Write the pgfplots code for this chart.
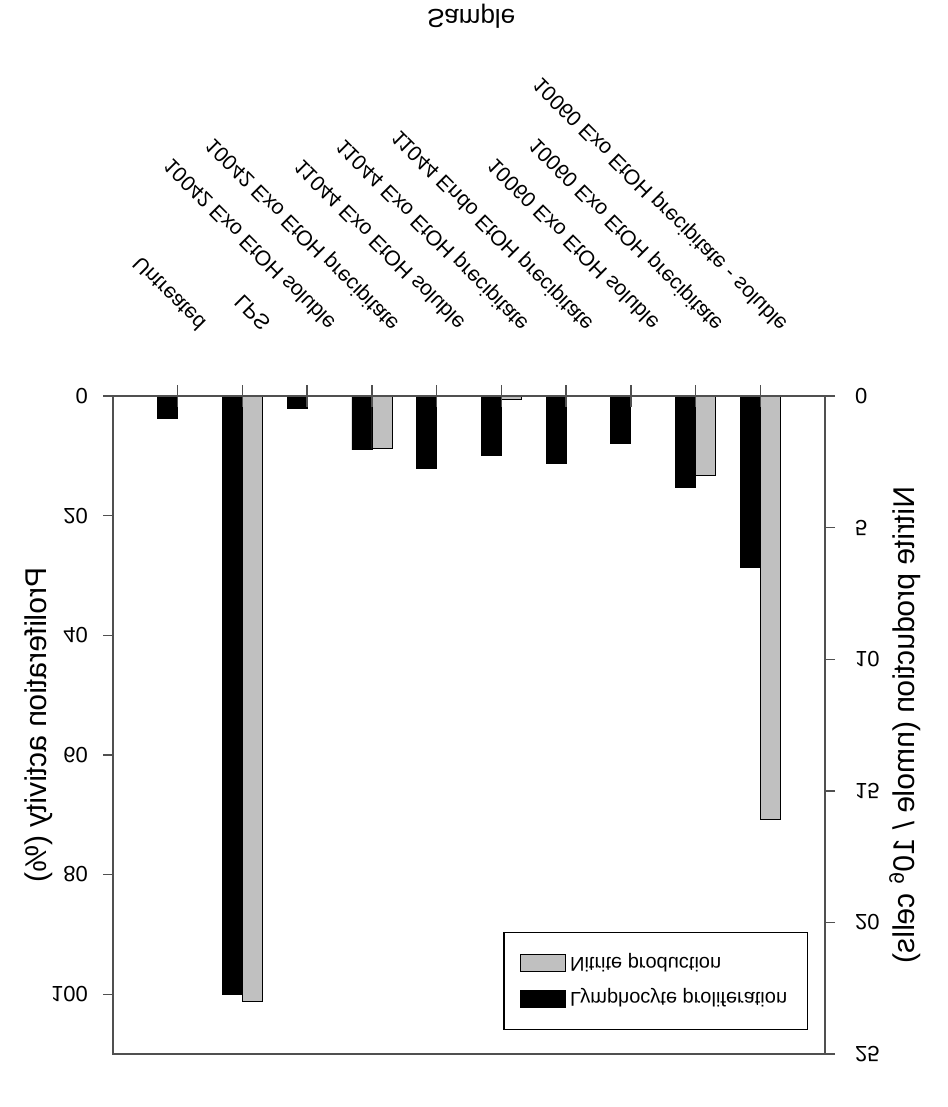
\documentclass[border=0pt]{standalone}
\usepackage{fontspec}
\setmainfont{Liberation Sans}
\usepackage{pgfplots}
\pgfplotsset{compat=1.18}
\definecolor{barsilver}{RGB}{192,192,192}
\definecolor{axisgray}{RGB}{80,80,80}

\begin{document}
\begin{tikzpicture}
\path[use as bounding box] (0pt,0pt) rectangle (473.5pt,-553.5pt);
\pgfplotsset{
  geom/.style={
    scale only axis, width=356pt, height=329pt,
    at={(56.5pt,-527pt)}, anchor=south west,
    xmin=0, xmax=11, enlargelimits=false,
    tick align=outside, major tick length=5pt,
    axis line style={axisgray, line width=0.7pt},
    every tick/.style={axisgray, line width=0.7pt},
  },
  common/.style={
    geom, y dir=reverse,
    /pgf/number format/assume math mode=true,
    ticklabel style={font=\fontsize{11}{13}\selectfont},
    ybar, bar width=10pt,
  }
}
\begin{axis}[common,
  ymin=0, ymax=110, ytick={0,20,...,100},
  ytick pos=left, xtick pos=right, xticklabel pos=right,
  xtick={1,2,3,4,5,6,7,8,9,10},
  xticklabels={Untreated, LPS, 10042 Exo EtOH soluble, 10042 Exo EtOH precipitate, 11044 Exo EtOH soluble, 11044 Exo EtOH precipitate, 11044 Endo EtOH precipitate, 10060 Exo EtOH soluble, 10060 Exo EtOH precipitate, 10060 Exo EtOH precipitate - soluble},
  xticklabel style={font=\fontsize{10.6}{12.5}\selectfont, xshift=14.5pt, yshift=27pt, yscale=-1, rotate=45, anchor=east},
  yticklabel style={xshift=-4pt, yscale=-1},
  ylabel={Proliferation activity (\%)},
  xlabel={Sample},
  every axis y label/.style={at={(axis description cs:-0.105,0.5)}, anchor=center, font=\fontsize{15}{18}\selectfont, yscale=-1, rotate=90},
  every axis x label/.style={at={(axis description cs:0.503,1.577)}, anchor=center, font=\fontsize{13}{16}\selectfont, yscale=-1},
]
\addplot[fill=black, draw=black, bar shift=-5pt] coordinates {(1,3.7) (2,100) (3,2.0) (4,9.0) (5,12.1) (6,9.9) (7,11.3) (8,8.0) (9,15.3) (10,28.6)};
\end{axis}
\begin{axis}[common,
  ymin=0, ymax=25, ytick={0,5,...,25},
  axis x line=none, axis y line*=right,
  yticklabel style={xshift=6.5pt, yscale=-1},
  ylabel={Nitrite production (nmole / 10\textsuperscript{6} cells)},
  every axis y label/.style={at={(axis description cs:1.112,0.5)}, anchor=center, font=\fontsize{15}{18}\selectfont, yscale=-1, rotate=90},
  legend style={at={(0.976,0.0365)}, anchor=south east, draw=black, line width=0.7pt, font=\fontsize{10}{12}\selectfont, nodes={yscale=-1}, row sep=5pt, inner xsep=8pt, inner ysep=9pt},
  legend cell align=left,
  legend image code/.code={\draw[#1, line width=0.5pt] (0pt,-4.25pt) rectangle (22.5pt,4.25pt);},
]
\addplot[fill=barsilver, draw=black, bar shift=5pt] coordinates {(2,23.0) (4,2.0) (6,0.13) (9,3.0) (10,16.1)};
\addlegendentry{Nitrite production}
\addlegendimage{fill=black, draw=black}
\addlegendentry{Lymphocyte proliferation}
\end{axis}
% category tick marks above the top axis line
\begin{axis}[scale only axis, width=356pt, height=20pt,
  at={(56.5pt,-198pt)}, anchor=south west,
  xmin=0, xmax=11, ymin=0, ymax=1, enlargelimits=false,
  axis y line=none, axis x line*=bottom,
  axis line style={axisgray, line width=0.7pt},
  every tick/.style={axisgray, line width=0.7pt},
  xtick={1,2,3,4,5,6,7,8,9,10}, xticklabels={},
  xtick align=center, major tick length=11pt,
  axis on top,
]
\end{axis}
\end{tikzpicture}
\end{document}
